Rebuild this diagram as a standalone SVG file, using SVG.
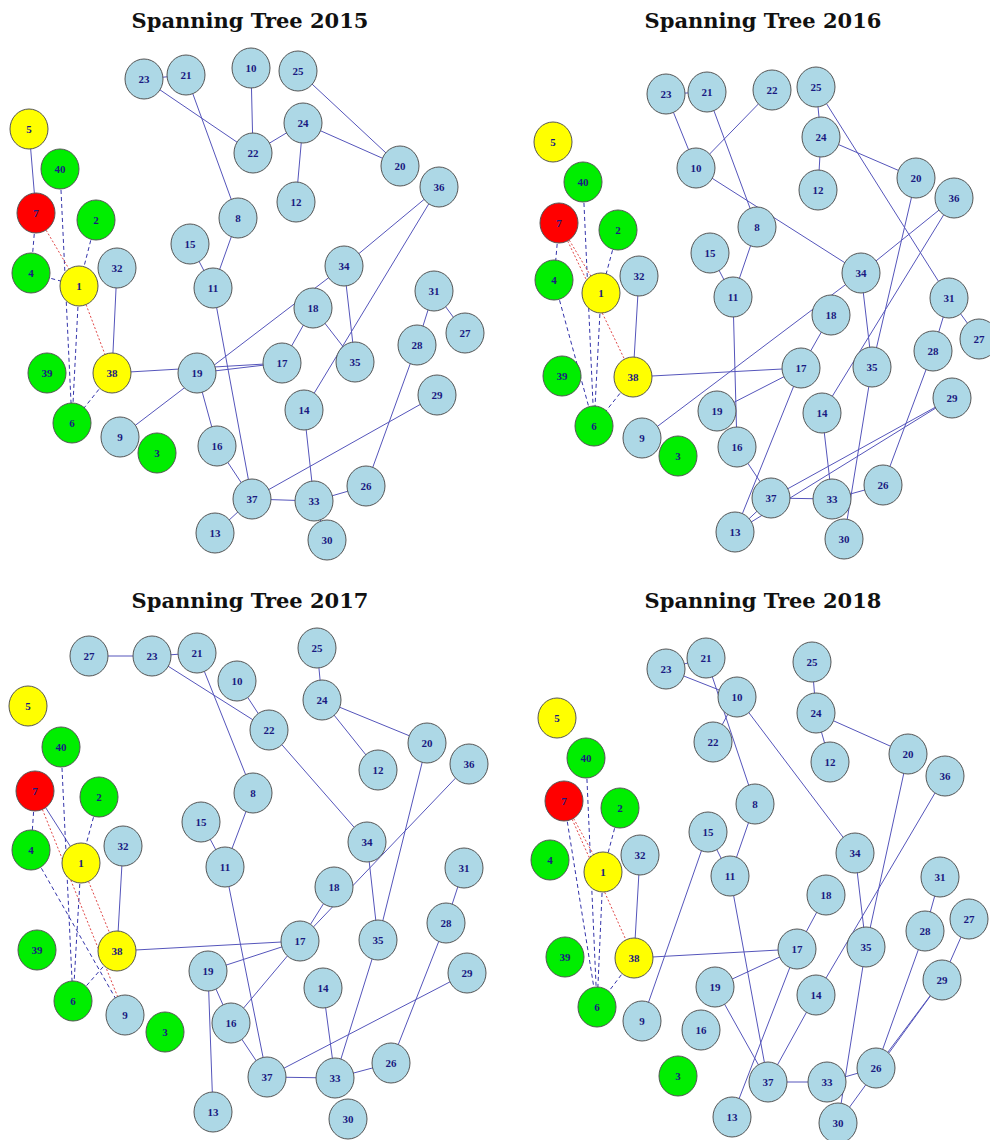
<svg xmlns="http://www.w3.org/2000/svg" width="990" height="1140" viewBox="0 0 990 1140">
<style>
.t{font-family:"DejaVu Serif","Liberation Serif",serif;font-weight:bold;font-size:21px;fill:#111;text-anchor:middle}
.e line{stroke:#5555bb;stroke-width:1;fill:none}
.e line.d{stroke:#3333aa;stroke-dasharray:4,3}
.e line.r{stroke:#dd3333;stroke-dasharray:2,2;stroke-width:0.9}
.n ellipse{stroke:#555;stroke-width:1;fill:#ADD8E6}
.n.g ellipse{fill:#00EE00}
.n.y ellipse{fill:#FFFF00}
.n.r ellipse{fill:#FF0000}
.n text{font-family:"Liberation Serif","DejaVu Serif",serif;font-weight:bold;font-size:11px;fill:#1a1a80;text-anchor:middle;dominant-baseline:central}
</style>
<rect width="990" height="1140" fill="#fff"/>
<text class="t" x="250" y="28">Spanning Tree 2015</text>
<text class="t" x="763" y="28">Spanning Tree 2016</text>
<text class="t" x="250" y="608">Spanning Tree 2017</text>
<text class="t" x="763" y="608">Spanning Tree 2018</text>

<!-- ===== 2015 ===== -->
<g id="p2015">
<g id="p2015-edges" class="e">
<line x1="144" y1="79" x2="186" y2="75"/>
<line x1="144" y1="79" x2="253" y2="153"/>
<line x1="186" y1="75" x2="238" y2="218"/>
<line x1="251" y1="68" x2="253" y2="153"/>
<line x1="253" y1="153" x2="303" y2="123"/>
<line x1="303" y1="123" x2="400" y2="166"/>
<line x1="298" y1="71" x2="400" y2="166"/>
<line x1="303" y1="123" x2="296" y2="202"/>
<line x1="29" y1="129" x2="36" y2="213"/>
<line x1="213" y1="288" x2="252" y2="499"/>
<line x1="190" y1="244" x2="213" y2="288"/>
<line x1="238" y1="218" x2="213" y2="288"/>
<line x1="112" y1="373" x2="282" y2="363"/>
<line x1="197" y1="373" x2="282" y2="363"/>
<line x1="120" y1="437" x2="344" y2="266"/>
<line x1="197" y1="373" x2="217" y2="446"/>
<line x1="217" y1="446" x2="252" y2="499"/>
<line x1="215" y1="533" x2="252" y2="499"/>
<line x1="252" y1="499" x2="314" y2="501"/>
<line x1="252" y1="499" x2="437" y2="395"/>
<line x1="314" y1="501" x2="304" y2="410"/>
<line x1="314" y1="501" x2="366" y2="486"/>
<line x1="314" y1="501" x2="327" y2="540"/>
<line x1="366" y1="486" x2="417" y2="345"/>
<line x1="417" y1="345" x2="434" y2="291"/>
<line x1="434" y1="291" x2="465" y2="333"/>
<line x1="344" y1="266" x2="439" y2="187"/>
<line x1="344" y1="266" x2="355" y2="362"/>
<line x1="313" y1="308" x2="355" y2="362"/>
<line x1="313" y1="308" x2="282" y2="363"/>
<line x1="439" y1="187" x2="304" y2="410"/>
<line x1="117" y1="268" x2="112" y2="373"/>
<line class="d" x1="60" y1="169" x2="72" y2="423"/>
<line class="d" x1="36" y1="213" x2="31" y2="273"/>
<line class="d" x1="96" y1="220" x2="79" y2="286"/>
<line class="d" x1="31" y1="273" x2="79" y2="286"/>
<line class="d" x1="79" y1="286" x2="72" y2="423"/>
<line class="d" x1="112" y1="373" x2="72" y2="423"/>
<line class="r" x1="36" y1="213" x2="79" y2="286"/>
<line class="r" x1="79" y1="286" x2="112" y2="373"/>
</g>
<g id="p2015-n1" class="n y"><ellipse cx="79" cy="286" rx="19" ry="20"/><text x="79" y="286">1</text></g>
<g id="p2015-n2" class="n g"><ellipse cx="96" cy="220" rx="19" ry="20"/><text x="96" y="220">2</text></g>
<g id="p2015-n3" class="n g"><ellipse cx="157" cy="453" rx="19" ry="20"/><text x="157" y="453">3</text></g>
<g id="p2015-n4" class="n g"><ellipse cx="31" cy="273" rx="19" ry="20"/><text x="31" y="273">4</text></g>
<g id="p2015-n5" class="n y"><ellipse cx="29" cy="129" rx="19" ry="20"/><text x="29" y="129">5</text></g>
<g id="p2015-n6" class="n g"><ellipse cx="72" cy="423" rx="19" ry="20"/><text x="72" y="423">6</text></g>
<g id="p2015-n7" class="n r"><ellipse cx="36" cy="213" rx="19" ry="20"/><text x="36" y="213">7</text></g>
<g id="p2015-n8" class="n"><ellipse cx="238" cy="218" rx="19" ry="20"/><text x="238" y="218">8</text></g>
<g id="p2015-n9" class="n"><ellipse cx="120" cy="437" rx="19" ry="20"/><text x="120" y="437">9</text></g>
<g id="p2015-n10" class="n"><ellipse cx="251" cy="68" rx="19" ry="20"/><text x="251" y="68">10</text></g>
<g id="p2015-n11" class="n"><ellipse cx="213" cy="288" rx="19" ry="20"/><text x="213" y="288">11</text></g>
<g id="p2015-n12" class="n"><ellipse cx="296" cy="202" rx="19" ry="20"/><text x="296" y="202">12</text></g>
<g id="p2015-n13" class="n"><ellipse cx="215" cy="533" rx="19" ry="20"/><text x="215" y="533">13</text></g>
<g id="p2015-n14" class="n"><ellipse cx="304" cy="410" rx="19" ry="20"/><text x="304" y="410">14</text></g>
<g id="p2015-n15" class="n"><ellipse cx="190" cy="244" rx="19" ry="20"/><text x="190" y="244">15</text></g>
<g id="p2015-n16" class="n"><ellipse cx="217" cy="446" rx="19" ry="20"/><text x="217" y="446">16</text></g>
<g id="p2015-n17" class="n"><ellipse cx="282" cy="363" rx="19" ry="20"/><text x="282" y="363">17</text></g>
<g id="p2015-n18" class="n"><ellipse cx="313" cy="308" rx="19" ry="20"/><text x="313" y="308">18</text></g>
<g id="p2015-n19" class="n"><ellipse cx="197" cy="373" rx="19" ry="20"/><text x="197" y="373">19</text></g>
<g id="p2015-n20" class="n"><ellipse cx="400" cy="166" rx="19" ry="20"/><text x="400" y="166">20</text></g>
<g id="p2015-n21" class="n"><ellipse cx="186" cy="75" rx="19" ry="20"/><text x="186" y="75">21</text></g>
<g id="p2015-n22" class="n"><ellipse cx="253" cy="153" rx="19" ry="20"/><text x="253" y="153">22</text></g>
<g id="p2015-n23" class="n"><ellipse cx="144" cy="79" rx="19" ry="20"/><text x="144" y="79">23</text></g>
<g id="p2015-n24" class="n"><ellipse cx="303" cy="123" rx="19" ry="20"/><text x="303" y="123">24</text></g>
<g id="p2015-n25" class="n"><ellipse cx="298" cy="71" rx="19" ry="20"/><text x="298" y="71">25</text></g>
<g id="p2015-n26" class="n"><ellipse cx="366" cy="486" rx="19" ry="20"/><text x="366" y="486">26</text></g>
<g id="p2015-n27" class="n"><ellipse cx="465" cy="333" rx="19" ry="20"/><text x="465" y="333">27</text></g>
<g id="p2015-n28" class="n"><ellipse cx="417" cy="345" rx="19" ry="20"/><text x="417" y="345">28</text></g>
<g id="p2015-n29" class="n"><ellipse cx="437" cy="395" rx="19" ry="20"/><text x="437" y="395">29</text></g>
<g id="p2015-n30" class="n"><ellipse cx="327" cy="540" rx="19" ry="20"/><text x="327" y="540">30</text></g>
<g id="p2015-n31" class="n"><ellipse cx="434" cy="291" rx="19" ry="20"/><text x="434" y="291">31</text></g>
<g id="p2015-n32" class="n"><ellipse cx="117" cy="268" rx="19" ry="20"/><text x="117" y="268">32</text></g>
<g id="p2015-n33" class="n"><ellipse cx="314" cy="501" rx="19" ry="20"/><text x="314" y="501">33</text></g>
<g id="p2015-n34" class="n"><ellipse cx="344" cy="266" rx="19" ry="20"/><text x="344" y="266">34</text></g>
<g id="p2015-n35" class="n"><ellipse cx="355" cy="362" rx="19" ry="20"/><text x="355" y="362">35</text></g>
<g id="p2015-n36" class="n"><ellipse cx="439" cy="187" rx="19" ry="20"/><text x="439" y="187">36</text></g>
<g id="p2015-n37" class="n"><ellipse cx="252" cy="499" rx="19" ry="20"/><text x="252" y="499">37</text></g>
<g id="p2015-n38" class="n y"><ellipse cx="112" cy="373" rx="19" ry="20"/><text x="112" y="373">38</text></g>
<g id="p2015-n39" class="n g"><ellipse cx="47" cy="373" rx="19" ry="20"/><text x="47" y="373">39</text></g>
<g id="p2015-n40" class="n g"><ellipse cx="60" cy="169" rx="19" ry="20"/><text x="60" y="169">40</text></g>
</g>

<!-- ===== 2016 ===== -->
<g id="p2016">
<g id="p2016-edges" class="e">
<line x1="666" y1="94" x2="707" y2="92"/>
<line x1="666" y1="94" x2="696" y2="168"/>
<line x1="696" y1="168" x2="772" y2="90"/>
<line x1="696" y1="168" x2="861" y2="273"/>
<line x1="707" y1="92" x2="757" y2="227"/>
<line x1="757" y1="227" x2="733" y2="297"/>
<line x1="710" y1="253" x2="733" y2="297"/>
<line x1="816" y1="87" x2="821" y2="137"/>
<line x1="821" y1="137" x2="818" y2="190"/>
<line x1="821" y1="137" x2="916" y2="178"/>
<line x1="816" y1="87" x2="949" y2="298"/>
<line x1="916" y1="178" x2="872" y2="367"/>
<line x1="954" y1="198" x2="861" y2="273"/>
<line x1="954" y1="198" x2="822" y2="413"/>
<line x1="861" y1="273" x2="872" y2="367"/>
<line x1="861" y1="273" x2="642" y2="438"/>
<line x1="831" y1="315" x2="801" y2="368"/>
<line x1="801" y1="368" x2="633" y2="377"/>
<line x1="801" y1="368" x2="717" y2="411"/>
<line x1="801" y1="368" x2="735" y2="532"/>
<line x1="733" y1="297" x2="737" y2="447"/>
<line x1="737" y1="447" x2="771" y2="498"/>
<line x1="735" y1="532" x2="771" y2="498"/>
<line x1="771" y1="498" x2="832" y2="499"/>
<line x1="771" y1="498" x2="952" y2="398"/>
<line x1="952" y1="398" x2="735" y2="532"/>
<line x1="832" y1="499" x2="822" y2="413"/>
<line x1="832" y1="499" x2="883" y2="485"/>
<line x1="872" y1="367" x2="844" y2="539"/>
<line x1="883" y1="485" x2="933" y2="351"/>
<line x1="933" y1="351" x2="949" y2="298"/>
<line x1="949" y1="298" x2="979" y2="339"/>
<line x1="639" y1="276" x2="633" y2="377"/>
<line class="d" x1="559" y1="223" x2="554" y2="280"/>
<line class="d" x1="583" y1="182" x2="594" y2="426"/>
<line class="d" x1="601" y1="293" x2="594" y2="426"/>
<line class="d" x1="618" y1="230" x2="601" y2="293"/>
<line class="d" x1="554" y1="280" x2="594" y2="426"/>
<line class="d" x1="633" y1="377" x2="594" y2="426"/>
<line class="r" x1="559" y1="223" x2="601" y2="293"/>
<line class="r" x1="559" y1="223" x2="633" y2="377"/>
</g>
<g id="p2016-n1" class="n y"><ellipse cx="601" cy="293" rx="19" ry="20"/><text x="601" y="293">1</text></g>
<g id="p2016-n2" class="n g"><ellipse cx="618" cy="230" rx="19" ry="20"/><text x="618" y="230">2</text></g>
<g id="p2016-n3" class="n g"><ellipse cx="678" cy="456" rx="19" ry="20"/><text x="678" y="456">3</text></g>
<g id="p2016-n4" class="n g"><ellipse cx="554" cy="280" rx="19" ry="20"/><text x="554" y="280">4</text></g>
<g id="p2016-n5" class="n y"><ellipse cx="553" cy="142" rx="19" ry="20"/><text x="553" y="142">5</text></g>
<g id="p2016-n6" class="n g"><ellipse cx="594" cy="426" rx="19" ry="20"/><text x="594" y="426">6</text></g>
<g id="p2016-n7" class="n r"><ellipse cx="559" cy="223" rx="19" ry="20"/><text x="559" y="223">7</text></g>
<g id="p2016-n8" class="n"><ellipse cx="757" cy="227" rx="19" ry="20"/><text x="757" y="227">8</text></g>
<g id="p2016-n9" class="n"><ellipse cx="642" cy="438" rx="19" ry="20"/><text x="642" y="438">9</text></g>
<g id="p2016-n10" class="n"><ellipse cx="696" cy="168" rx="19" ry="20"/><text x="696" y="168">10</text></g>
<g id="p2016-n11" class="n"><ellipse cx="733" cy="297" rx="19" ry="20"/><text x="733" y="297">11</text></g>
<g id="p2016-n12" class="n"><ellipse cx="818" cy="190" rx="19" ry="20"/><text x="818" y="190">12</text></g>
<g id="p2016-n13" class="n"><ellipse cx="735" cy="532" rx="19" ry="20"/><text x="735" y="532">13</text></g>
<g id="p2016-n14" class="n"><ellipse cx="822" cy="413" rx="19" ry="20"/><text x="822" y="413">14</text></g>
<g id="p2016-n15" class="n"><ellipse cx="710" cy="253" rx="19" ry="20"/><text x="710" y="253">15</text></g>
<g id="p2016-n16" class="n"><ellipse cx="737" cy="447" rx="19" ry="20"/><text x="737" y="447">16</text></g>
<g id="p2016-n17" class="n"><ellipse cx="801" cy="368" rx="19" ry="20"/><text x="801" y="368">17</text></g>
<g id="p2016-n18" class="n"><ellipse cx="831" cy="315" rx="19" ry="20"/><text x="831" y="315">18</text></g>
<g id="p2016-n19" class="n"><ellipse cx="717" cy="411" rx="19" ry="20"/><text x="717" y="411">19</text></g>
<g id="p2016-n20" class="n"><ellipse cx="916" cy="178" rx="19" ry="20"/><text x="916" y="178">20</text></g>
<g id="p2016-n21" class="n"><ellipse cx="707" cy="92" rx="19" ry="20"/><text x="707" y="92">21</text></g>
<g id="p2016-n22" class="n"><ellipse cx="772" cy="90" rx="19" ry="20"/><text x="772" y="90">22</text></g>
<g id="p2016-n23" class="n"><ellipse cx="666" cy="94" rx="19" ry="20"/><text x="666" y="94">23</text></g>
<g id="p2016-n24" class="n"><ellipse cx="821" cy="137" rx="19" ry="20"/><text x="821" y="137">24</text></g>
<g id="p2016-n25" class="n"><ellipse cx="816" cy="87" rx="19" ry="20"/><text x="816" y="87">25</text></g>
<g id="p2016-n26" class="n"><ellipse cx="883" cy="485" rx="19" ry="20"/><text x="883" y="485">26</text></g>
<g id="p2016-n27" class="n"><ellipse cx="979" cy="339" rx="19" ry="20"/><text x="979" y="339">27</text></g>
<g id="p2016-n28" class="n"><ellipse cx="933" cy="351" rx="19" ry="20"/><text x="933" y="351">28</text></g>
<g id="p2016-n29" class="n"><ellipse cx="952" cy="398" rx="19" ry="20"/><text x="952" y="398">29</text></g>
<g id="p2016-n30" class="n"><ellipse cx="844" cy="539" rx="19" ry="20"/><text x="844" y="539">30</text></g>
<g id="p2016-n31" class="n"><ellipse cx="949" cy="298" rx="19" ry="20"/><text x="949" y="298">31</text></g>
<g id="p2016-n32" class="n"><ellipse cx="639" cy="276" rx="19" ry="20"/><text x="639" y="276">32</text></g>
<g id="p2016-n33" class="n"><ellipse cx="832" cy="499" rx="19" ry="20"/><text x="832" y="499">33</text></g>
<g id="p2016-n34" class="n"><ellipse cx="861" cy="273" rx="19" ry="20"/><text x="861" y="273">34</text></g>
<g id="p2016-n35" class="n"><ellipse cx="872" cy="367" rx="19" ry="20"/><text x="872" y="367">35</text></g>
<g id="p2016-n36" class="n"><ellipse cx="954" cy="198" rx="19" ry="20"/><text x="954" y="198">36</text></g>
<g id="p2016-n37" class="n"><ellipse cx="771" cy="498" rx="19" ry="20"/><text x="771" y="498">37</text></g>
<g id="p2016-n38" class="n y"><ellipse cx="633" cy="377" rx="19" ry="20"/><text x="633" y="377">38</text></g>
<g id="p2016-n39" class="n g"><ellipse cx="562" cy="376" rx="19" ry="20"/><text x="562" y="376">39</text></g>
<g id="p2016-n40" class="n g"><ellipse cx="583" cy="182" rx="19" ry="20"/><text x="583" y="182">40</text></g>
</g>

<!-- ===== 2017 ===== -->
<g id="p2017">
<g id="p2017-edges" class="e">
<line x1="89" y1="656" x2="152" y2="656"/>
<line x1="152" y1="656" x2="197" y2="653"/>
<line x1="152" y1="656" x2="269" y2="730"/>
<line x1="197" y1="653" x2="253" y2="793"/>
<line x1="237" y1="681" x2="269" y2="730"/>
<line x1="269" y1="730" x2="367" y2="842"/>
<line x1="317" y1="648" x2="322" y2="700"/>
<line x1="322" y1="700" x2="427" y2="743"/>
<line x1="322" y1="700" x2="378" y2="770"/>
<line x1="427" y1="743" x2="378" y2="940"/>
<line x1="469" y1="764" x2="300" y2="941"/>
<line x1="334" y1="887" x2="300" y2="941"/>
<line x1="367" y1="842" x2="378" y2="940"/>
<line x1="464" y1="868" x2="446" y2="923"/>
<line x1="446" y1="923" x2="391" y2="1063"/>
<line x1="467" y1="973" x2="267" y2="1077"/>
<line x1="378" y1="940" x2="335" y2="1078"/>
<line x1="323" y1="988" x2="335" y2="1078"/>
<line x1="335" y1="1078" x2="391" y2="1063"/>
<line x1="267" y1="1077" x2="335" y2="1078"/>
<line x1="225" y1="867" x2="267" y2="1077"/>
<line x1="231" y1="1023" x2="267" y2="1077"/>
<line x1="231" y1="1023" x2="300" y2="941"/>
<line x1="208" y1="971" x2="300" y2="941"/>
<line x1="117" y1="951" x2="300" y2="941"/>
<line x1="208" y1="971" x2="231" y2="1023"/>
<line x1="208" y1="971" x2="213" y2="1112"/>
<line x1="253" y1="793" x2="225" y2="867"/>
<line x1="201" y1="822" x2="225" y2="867"/>
<line x1="123" y1="846" x2="117" y2="951"/>
<line x1="35" y1="791" x2="81" y2="863"/>
<line class="d" x1="35" y1="791" x2="31" y2="850"/>
<line class="d" x1="31" y1="850" x2="125" y2="1015"/>
<line class="d" x1="61" y1="747" x2="73" y2="1001"/>
<line class="d" x1="81" y1="863" x2="73" y2="1001"/>
<line class="d" x1="99" y1="797" x2="81" y2="863"/>
<line class="d" x1="117" y1="951" x2="73" y2="1001"/>
<line class="r" x1="35" y1="791" x2="125" y2="1015"/>
<line class="r" x1="81" y1="863" x2="117" y2="951"/>
</g>
<g id="p2017-n1" class="n y"><ellipse cx="81" cy="863" rx="19" ry="20"/><text x="81" y="863">1</text></g>
<g id="p2017-n2" class="n g"><ellipse cx="99" cy="797" rx="19" ry="20"/><text x="99" y="797">2</text></g>
<g id="p2017-n3" class="n g"><ellipse cx="165" cy="1032" rx="19" ry="20"/><text x="165" y="1032">3</text></g>
<g id="p2017-n4" class="n g"><ellipse cx="31" cy="850" rx="19" ry="20"/><text x="31" y="850">4</text></g>
<g id="p2017-n5" class="n y"><ellipse cx="28" cy="706" rx="19" ry="20"/><text x="28" y="706">5</text></g>
<g id="p2017-n6" class="n g"><ellipse cx="73" cy="1001" rx="19" ry="20"/><text x="73" y="1001">6</text></g>
<g id="p2017-n7" class="n r"><ellipse cx="35" cy="791" rx="19" ry="20"/><text x="35" y="791">7</text></g>
<g id="p2017-n8" class="n"><ellipse cx="253" cy="793" rx="19" ry="20"/><text x="253" y="793">8</text></g>
<g id="p2017-n9" class="n"><ellipse cx="125" cy="1015" rx="19" ry="20"/><text x="125" y="1015">9</text></g>
<g id="p2017-n10" class="n"><ellipse cx="237" cy="681" rx="19" ry="20"/><text x="237" y="681">10</text></g>
<g id="p2017-n11" class="n"><ellipse cx="225" cy="867" rx="19" ry="20"/><text x="225" y="867">11</text></g>
<g id="p2017-n12" class="n"><ellipse cx="378" cy="770" rx="19" ry="20"/><text x="378" y="770">12</text></g>
<g id="p2017-n13" class="n"><ellipse cx="213" cy="1112" rx="19" ry="20"/><text x="213" y="1112">13</text></g>
<g id="p2017-n14" class="n"><ellipse cx="323" cy="988" rx="19" ry="20"/><text x="323" y="988">14</text></g>
<g id="p2017-n15" class="n"><ellipse cx="201" cy="822" rx="19" ry="20"/><text x="201" y="822">15</text></g>
<g id="p2017-n16" class="n"><ellipse cx="231" cy="1023" rx="19" ry="20"/><text x="231" y="1023">16</text></g>
<g id="p2017-n17" class="n"><ellipse cx="300" cy="941" rx="19" ry="20"/><text x="300" y="941">17</text></g>
<g id="p2017-n18" class="n"><ellipse cx="334" cy="887" rx="19" ry="20"/><text x="334" y="887">18</text></g>
<g id="p2017-n19" class="n"><ellipse cx="208" cy="971" rx="19" ry="20"/><text x="208" y="971">19</text></g>
<g id="p2017-n20" class="n"><ellipse cx="427" cy="743" rx="19" ry="20"/><text x="427" y="743">20</text></g>
<g id="p2017-n21" class="n"><ellipse cx="197" cy="653" rx="19" ry="20"/><text x="197" y="653">21</text></g>
<g id="p2017-n22" class="n"><ellipse cx="269" cy="730" rx="19" ry="20"/><text x="269" y="730">22</text></g>
<g id="p2017-n23" class="n"><ellipse cx="152" cy="656" rx="19" ry="20"/><text x="152" y="656">23</text></g>
<g id="p2017-n24" class="n"><ellipse cx="322" cy="700" rx="19" ry="20"/><text x="322" y="700">24</text></g>
<g id="p2017-n25" class="n"><ellipse cx="317" cy="648" rx="19" ry="20"/><text x="317" y="648">25</text></g>
<g id="p2017-n26" class="n"><ellipse cx="391" cy="1063" rx="19" ry="20"/><text x="391" y="1063">26</text></g>
<g id="p2017-n27" class="n"><ellipse cx="89" cy="656" rx="19" ry="20"/><text x="89" y="656">27</text></g>
<g id="p2017-n28" class="n"><ellipse cx="446" cy="923" rx="19" ry="20"/><text x="446" y="923">28</text></g>
<g id="p2017-n29" class="n"><ellipse cx="467" cy="973" rx="19" ry="20"/><text x="467" y="973">29</text></g>
<g id="p2017-n30" class="n"><ellipse cx="348" cy="1119" rx="19" ry="20"/><text x="348" y="1119">30</text></g>
<g id="p2017-n31" class="n"><ellipse cx="464" cy="868" rx="19" ry="20"/><text x="464" y="868">31</text></g>
<g id="p2017-n32" class="n"><ellipse cx="123" cy="846" rx="19" ry="20"/><text x="123" y="846">32</text></g>
<g id="p2017-n33" class="n"><ellipse cx="335" cy="1078" rx="19" ry="20"/><text x="335" y="1078">33</text></g>
<g id="p2017-n34" class="n"><ellipse cx="367" cy="842" rx="19" ry="20"/><text x="367" y="842">34</text></g>
<g id="p2017-n35" class="n"><ellipse cx="378" cy="940" rx="19" ry="20"/><text x="378" y="940">35</text></g>
<g id="p2017-n36" class="n"><ellipse cx="469" cy="764" rx="19" ry="20"/><text x="469" y="764">36</text></g>
<g id="p2017-n37" class="n"><ellipse cx="267" cy="1077" rx="19" ry="20"/><text x="267" y="1077">37</text></g>
<g id="p2017-n38" class="n y"><ellipse cx="117" cy="951" rx="19" ry="20"/><text x="117" y="951">38</text></g>
<g id="p2017-n39" class="n g"><ellipse cx="37" cy="950" rx="19" ry="20"/><text x="37" y="950">39</text></g>
<g id="p2017-n40" class="n g"><ellipse cx="61" cy="747" rx="19" ry="20"/><text x="61" y="747">40</text></g>
</g>

<!-- ===== 2018 ===== -->
<g id="p2018">
<g id="p2018-edges" class="e">
<line x1="666" y1="669" x2="706" y2="658"/>
<line x1="666" y1="669" x2="737" y2="697"/>
<line x1="706" y1="658" x2="755" y2="804"/>
<line x1="737" y1="697" x2="713" y2="742"/>
<line x1="737" y1="697" x2="855" y2="853"/>
<line x1="812" y1="662" x2="816" y2="713"/>
<line x1="816" y1="713" x2="830" y2="762"/>
<line x1="816" y1="713" x2="908" y2="754"/>
<line x1="908" y1="754" x2="866" y2="947"/>
<line x1="945" y1="776" x2="816" y2="995"/>
<line x1="855" y1="853" x2="866" y2="947"/>
<line x1="940" y1="877" x2="925" y2="931"/>
<line x1="925" y1="931" x2="876" y2="1068"/>
<line x1="969" y1="919" x2="942" y2="980"/>
<line x1="942" y1="980" x2="876" y2="1068"/>
<line x1="942" y1="980" x2="838" y2="1123"/>
<line x1="827" y1="1082" x2="876" y2="1068"/>
<line x1="768" y1="1082" x2="827" y2="1082"/>
<line x1="866" y1="947" x2="838" y2="1123"/>
<line x1="816" y1="995" x2="768" y2="1082"/>
<line x1="730" y1="876" x2="768" y2="1082"/>
<line x1="797" y1="949" x2="826" y2="895"/>
<line x1="797" y1="949" x2="634" y2="958"/>
<line x1="797" y1="949" x2="715" y2="987"/>
<line x1="797" y1="949" x2="732" y2="1117"/>
<line x1="715" y1="987" x2="768" y2="1082"/>
<line x1="755" y1="804" x2="730" y2="876"/>
<line x1="708" y1="832" x2="730" y2="876"/>
<line x1="708" y1="832" x2="642" y2="1021"/>
<line x1="640" y1="855" x2="634" y2="958"/>
<line class="d" x1="564" y1="801" x2="597" y2="1007"/>
<line class="d" x1="586" y1="758" x2="597" y2="1007"/>
<line class="d" x1="603" y1="872" x2="597" y2="1007"/>
<line class="d" x1="620" y1="808" x2="603" y2="872"/>
<line class="d" x1="634" y1="958" x2="597" y2="1007"/>
<line class="r" x1="564" y1="801" x2="603" y2="872"/>
<line class="r" x1="564" y1="801" x2="634" y2="958"/>
</g>
<g id="p2018-n1" class="n y"><ellipse cx="603" cy="872" rx="19" ry="20"/><text x="603" y="872">1</text></g>
<g id="p2018-n2" class="n g"><ellipse cx="620" cy="808" rx="19" ry="20"/><text x="620" y="808">2</text></g>
<g id="p2018-n3" class="n g"><ellipse cx="678" cy="1076" rx="19" ry="20"/><text x="678" y="1076">3</text></g>
<g id="p2018-n4" class="n g"><ellipse cx="550" cy="860" rx="19" ry="20"/><text x="550" y="860">4</text></g>
<g id="p2018-n5" class="n y"><ellipse cx="557" cy="718" rx="19" ry="20"/><text x="557" y="718">5</text></g>
<g id="p2018-n6" class="n g"><ellipse cx="597" cy="1007" rx="19" ry="20"/><text x="597" y="1007">6</text></g>
<g id="p2018-n7" class="n r"><ellipse cx="564" cy="801" rx="19" ry="20"/><text x="564" y="801">7</text></g>
<g id="p2018-n8" class="n"><ellipse cx="755" cy="804" rx="19" ry="20"/><text x="755" y="804">8</text></g>
<g id="p2018-n9" class="n"><ellipse cx="642" cy="1021" rx="19" ry="20"/><text x="642" y="1021">9</text></g>
<g id="p2018-n10" class="n"><ellipse cx="737" cy="697" rx="19" ry="20"/><text x="737" y="697">10</text></g>
<g id="p2018-n11" class="n"><ellipse cx="730" cy="876" rx="19" ry="20"/><text x="730" y="876">11</text></g>
<g id="p2018-n12" class="n"><ellipse cx="830" cy="762" rx="19" ry="20"/><text x="830" y="762">12</text></g>
<g id="p2018-n13" class="n"><ellipse cx="732" cy="1117" rx="19" ry="20"/><text x="732" y="1117">13</text></g>
<g id="p2018-n14" class="n"><ellipse cx="816" cy="995" rx="19" ry="20"/><text x="816" y="995">14</text></g>
<g id="p2018-n15" class="n"><ellipse cx="708" cy="832" rx="19" ry="20"/><text x="708" y="832">15</text></g>
<g id="p2018-n16" class="n"><ellipse cx="701" cy="1030" rx="19" ry="20"/><text x="701" y="1030">16</text></g>
<g id="p2018-n17" class="n"><ellipse cx="797" cy="949" rx="19" ry="20"/><text x="797" y="949">17</text></g>
<g id="p2018-n18" class="n"><ellipse cx="826" cy="895" rx="19" ry="20"/><text x="826" y="895">18</text></g>
<g id="p2018-n19" class="n"><ellipse cx="715" cy="987" rx="19" ry="20"/><text x="715" y="987">19</text></g>
<g id="p2018-n20" class="n"><ellipse cx="908" cy="754" rx="19" ry="20"/><text x="908" y="754">20</text></g>
<g id="p2018-n21" class="n"><ellipse cx="706" cy="658" rx="19" ry="20"/><text x="706" y="658">21</text></g>
<g id="p2018-n22" class="n"><ellipse cx="713" cy="742" rx="19" ry="20"/><text x="713" y="742">22</text></g>
<g id="p2018-n23" class="n"><ellipse cx="666" cy="669" rx="19" ry="20"/><text x="666" y="669">23</text></g>
<g id="p2018-n24" class="n"><ellipse cx="816" cy="713" rx="19" ry="20"/><text x="816" y="713">24</text></g>
<g id="p2018-n25" class="n"><ellipse cx="812" cy="662" rx="19" ry="20"/><text x="812" y="662">25</text></g>
<g id="p2018-n26" class="n"><ellipse cx="876" cy="1068" rx="19" ry="20"/><text x="876" y="1068">26</text></g>
<g id="p2018-n27" class="n"><ellipse cx="969" cy="919" rx="19" ry="20"/><text x="969" y="919">27</text></g>
<g id="p2018-n28" class="n"><ellipse cx="925" cy="931" rx="19" ry="20"/><text x="925" y="931">28</text></g>
<g id="p2018-n29" class="n"><ellipse cx="942" cy="980" rx="19" ry="20"/><text x="942" y="980">29</text></g>
<g id="p2018-n30" class="n"><ellipse cx="838" cy="1123" rx="19" ry="20"/><text x="838" y="1123">30</text></g>
<g id="p2018-n31" class="n"><ellipse cx="940" cy="877" rx="19" ry="20"/><text x="940" y="877">31</text></g>
<g id="p2018-n32" class="n"><ellipse cx="640" cy="855" rx="19" ry="20"/><text x="640" y="855">32</text></g>
<g id="p2018-n33" class="n"><ellipse cx="827" cy="1082" rx="19" ry="20"/><text x="827" y="1082">33</text></g>
<g id="p2018-n34" class="n"><ellipse cx="855" cy="853" rx="19" ry="20"/><text x="855" y="853">34</text></g>
<g id="p2018-n35" class="n"><ellipse cx="866" cy="947" rx="19" ry="20"/><text x="866" y="947">35</text></g>
<g id="p2018-n36" class="n"><ellipse cx="945" cy="776" rx="19" ry="20"/><text x="945" y="776">36</text></g>
<g id="p2018-n37" class="n"><ellipse cx="768" cy="1082" rx="19" ry="20"/><text x="768" y="1082">37</text></g>
<g id="p2018-n38" class="n y"><ellipse cx="634" cy="958" rx="19" ry="20"/><text x="634" y="958">38</text></g>
<g id="p2018-n39" class="n g"><ellipse cx="565" cy="957" rx="19" ry="20"/><text x="565" y="957">39</text></g>
<g id="p2018-n40" class="n g"><ellipse cx="586" cy="758" rx="19" ry="20"/><text x="586" y="758">40</text></g>
</g>
</svg>
